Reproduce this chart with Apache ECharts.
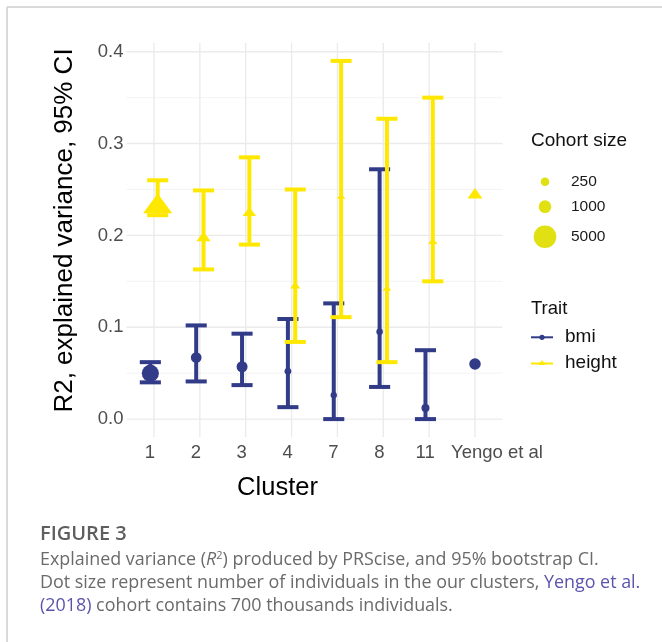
<!DOCTYPE html>
<html>
<head>
<meta charset="utf-8">
<script src="https://cdn.jsdelivr.net/npm/echarts@6/dist/echarts.min.js"></script>
<style>
html,body{margin:0;padding:0;background:#fff;}
#chart{width:662px;height:642px;}
</style>
</head>
<body>
<div id="chart"></div>
<script>
// ---------- data ----------
const categories = ['1', '2', '3', '4', '7', '8', '11', 'Yengo et al'];
const yTicks = [0, 0.1, 0.2, 0.3, 0.4];

const bmiR2     = [0.050, 0.067, 0.057, 0.052, 0.026, 0.095, 0.012];
const bmiLow    = [0.040, 0.041, 0.037, 0.013, 0.000, 0.035, 0.000];
const bmiHigh   = [0.062, 0.102, 0.093, 0.109, 0.126, 0.272, 0.075];
const bmiCohort = [2400, 570, 630, 70, 45, 55, 180];

const heightR2     = [0.235, 0.199, 0.226, 0.146, 0.243, 0.143, 0.194];
const heightLow    = [0.222, 0.163, 0.190, 0.084, 0.111, 0.062, 0.150];
const heightHigh   = [0.260, 0.249, 0.285, 0.250, 0.390, 0.327, 0.350];
const heightCohort = [4400, 550, 450, 130, 45, 45, 80];

const yengoBmi = 0.060;
const yengoHeight = 0.246;

const legendCohorts = [250, 1000, 5000];
const traits = ['bmi', 'height'];

// ---------- styles ----------
const NAVY = '#313b88';
const YELLOW = '#ffe800';
const LEGEND_YELLOW = '#e0e012';
const DODGE = 0.08;
const CAP_UNITS = 0.46;
const ERR_W = 4;
const FONT = '"Liberation Sans", Arial, sans-serif';
const CAP_FONT = '"Open Sans", "Noto Sans", sans-serif';
const CAP_SIZE = 17.9;

function dotSize(n) { return 4.6 + 0.255 * Math.sqrt(n); }
function triSize(n) { const w = 1.35 * dotSize(n); return [w, 0.68 * w]; }

const clusterIdx = categories.slice(0, 7).map((c, i) => i + 1);
const yengoIdx = categories.length;

const bmiErr = clusterIdx.map((x, i) => [x - DODGE, bmiLow[i], bmiHigh[i]]);
const heightErr = clusterIdx.map((x, i) => [x + DODGE, heightLow[i], heightHigh[i]]);
const bmiPts = clusterIdx.map((x, i) => [x - DODGE, bmiR2[i], bmiCohort[i]]);
const heightPts = clusterIdx.map((x, i) => [x + DODGE, heightR2[i], heightCohort[i]]);

const majorY = yTicks.map(v => [1, v]);
const minorY = yTicks.slice(0, -1).map((v, i) => [1, (yTicks[i] + yTicks[i + 1]) / 2]);
const vertX = categories.map((c, i) => [i + 1, 0]);

function hGrid(width, color) {
  return function (params, api) {
    const cs = params.coordSys;
    const y = api.coord([1, api.value(1)])[1];
    return { type: 'line', shape: { x1: cs.x, y1: y, x2: cs.x + cs.width, y2: y },
      style: { stroke: color, lineWidth: width } };
  };
}
function vGrid(params, api) {
  const cs = params.coordSys;
  const x = api.coord([api.value(0), 0])[0];
  return { type: 'line', shape: { x1: x, y1: cs.y, x2: x, y2: cs.y + cs.height },
    style: { stroke: '#ebebeb', lineWidth: 1.4 } };
}
function errBar(color) {
  return function (params, api) {
    const x = api.value(0);
    const pLo = api.coord([x, api.value(1)]);
    const pHi = api.coord([x, api.value(2)]);
    const hw = api.size([CAP_UNITS, 0])[0] / 2;
    const st = { stroke: color, lineWidth: ERR_W, lineCap: 'butt' };
    return { type: 'group', children: [
      { type: 'line', shape: { x1: pLo[0], y1: pLo[1], x2: pHi[0], y2: pHi[1] }, style: st },
      { type: 'line', shape: { x1: pHi[0] - hw, y1: pHi[1], x2: pHi[0] + hw, y2: pHi[1] }, style: st },
      { type: 'line', shape: { x1: pLo[0] - hw, y1: pLo[1], x2: pLo[0] + hw, y2: pLo[1] }, style: st }
    ] };
  };
}

const chart = echarts.init(document.getElementById('chart'), null, { renderer: 'canvas' });

// legend & caption graphics
const graphics = [
  { type: 'line', shape: { x1: 7, y1: 7, x2: 662, y2: 7 }, style: { stroke: '#dadada', lineWidth: 2 } },
  { type: 'line', shape: { x1: 7, y1: 7, x2: 7, y2: 642 }, style: { stroke: '#dadada', lineWidth: 2 } },
  { type: 'text', x: 531, y: 141, style: { text: 'Cohort size', font: '19px ' + FONT, fill: '#111', verticalAlign: 'middle' } }
];
const legendY = [181.7, 206.7, 236.7];
legendCohorts.forEach((n, i) => {
  graphics.push({ type: 'circle', shape: { cx: 545, cy: legendY[i], r: dotSize(n) / 2 }, style: { fill: LEGEND_YELLOW } });
  graphics.push({ type: 'text', x: 571, y: legendY[i], style: { text: String(n), font: '15.5px ' + FONT, fill: '#1a1a1a', verticalAlign: 'middle' } });
});
graphics.push({ type: 'text', x: 531, y: 308.5, style: { text: 'Trait', font: '18.5px ' + FONT, fill: '#111', verticalAlign: 'middle' } });
const traitY = [337.3, 363.5];
const traitCol = [NAVY, YELLOW];
traits.forEach((t, i) => {
  graphics.push({ type: 'line', shape: { x1: 531, y1: traitY[i], x2: 553, y2: traitY[i] }, style: { stroke: traitCol[i], lineWidth: 2 } });
  if (i === 0) {
    graphics.push({ type: 'circle', shape: { cx: 542, cy: traitY[i], r: 2.6 }, style: { fill: traitCol[i] } });
  } else {
    graphics.push({ type: 'polygon', shape: { points: [[542, traitY[i] - 3.5], [545.5, traitY[i] + 1.5], [538.5, traitY[i] + 1.5]] }, style: { fill: traitCol[i] } });
  }
  graphics.push({ type: 'text', x: 565, y: traitY[i] - 0.5, style: { text: t, font: '19px ' + FONT, fill: '#111', verticalAlign: 'middle' } });
});
// caption
graphics.push({ type: 'text', x: 40, y: 534.5, style: { text: 'FIGURE 3', font: '600 20px ' + CAP_FONT, fill: '#5e5e5e', verticalAlign: 'middle' } });
graphics.push({ type: 'text', x: 40, y: 559.5, style: {
  text: 'Explained variance ({it|R}{sup|2}) produced by PRScise, and 95% bootstrap CI.',
  font: CAP_SIZE + 'px ' + CAP_FONT, fill: '#6a6a6a', verticalAlign: 'middle',
  rich: { it: { fontStyle: 'italic', fontSize: CAP_SIZE, fontFamily: CAP_FONT, fill: '#6a6a6a' },
          sup: { fontSize: 11, fontFamily: CAP_FONT, verticalAlign: 'top', padding: [0, 0, 8, 0], fill: '#6a6a6a' } } } });
graphics.push({ type: 'text', x: 40, y: 582.7, style: {
  text: 'Dot size represent number of individuals in the our clusters, {lk|Yengo et al.}',
  font: CAP_SIZE + 'px ' + CAP_FONT, fill: '#6a6a6a', verticalAlign: 'middle',
  rich: { lk: { fill: '#5b54ad', fontSize: CAP_SIZE, fontFamily: CAP_FONT } } } });
graphics.push({ type: 'text', x: 40, y: 606, style: {
  text: '{lk|(2018)} cohort contains 700 thousands individuals.',
  font: CAP_SIZE + 'px ' + CAP_FONT, fill: '#6a6a6a', verticalAlign: 'middle',
  rich: { lk: { fill: '#5b54ad', fontSize: CAP_SIZE, fontFamily: CAP_FONT } } } });

const option = {
  animation: false,
  backgroundColor: '#fff',
  grid: { left: 126.5, right: 159.5, top: 43, bottom: 205, containLabel: false },
  xAxis: {
    type: 'value', min: 0.4, max: 8.6,
    axisLine: { show: false }, axisTick: { show: false }, splitLine: { show: false },
    axisLabel: {
      customValues: categories.map((c, i) => i + 1),
      showMinLabel: true, showMaxLabel: true, hideOverlap: false,
      formatter: v => {
        const i = Math.round(v) - 1;
        return (i === categories.length - 1 ? '{y|' : '{n|') + categories[i] + '}';
      },
      rich: {
        n: { fontSize: 18.5, color: '#4d4d4d', fontFamily: FONT, padding: [0, 8, 0, 0] },
        y: { fontSize: 18.5, color: '#4d4d4d', fontFamily: FONT, padding: [0, 0, 0, 44] }
      },
      fontSize: 18.5, color: '#4d4d4d', fontFamily: FONT, margin: 6
    },
    name: 'Cluster', nameLocation: 'middle', nameGap: 38,
    nameTextStyle: { fontSize: 25.5, color: '#000', fontFamily: FONT, padding: [0, 74, 0, 0] }
  },
  yAxis: {
    type: 'value', min: -0.0195, max: 0.4095,
    axisLine: { show: false }, axisTick: { show: false }, splitLine: { show: false },
    axisLabel: {
      customValues: yTicks,
      showMinLabel: true, showMaxLabel: true,
      formatter: v => v.toFixed(1),
      fontSize: 18.5, color: '#4d4d4d', fontFamily: FONT, margin: 3
    },
    name: 'R2, explained variance, 95% CI', nameLocation: 'middle', nameGap: 49, nameRotate: 90,
    nameTextStyle: { fontSize: 26, color: '#000', fontFamily: FONT, padding: [0, 0, 0, 19] }
  },
  graphic: graphics,
  series: [
    { type: 'custom', silent: true, renderItem: hGrid(0.8, '#f0f0f0'), data: minorY, encode: { x: 0, y: 1 }, z: 1 },
    { type: 'custom', silent: true, renderItem: hGrid(1.4, '#ebebeb'), data: majorY, encode: { x: 0, y: 1 }, z: 1 },
    { type: 'custom', silent: true, renderItem: vGrid, data: vertX, encode: { x: 0, y: 1 }, z: 1 },
    { name: 'bmi', type: 'custom', renderItem: errBar(NAVY), data: bmiErr, encode: { x: 0, y: [1, 2] }, z: 2 },
    { name: 'height', type: 'custom', renderItem: errBar(YELLOW), data: heightErr, encode: { x: 0, y: [1, 2] }, z: 3 },
    { name: 'bmi', type: 'scatter', data: bmiPts, symbol: 'circle', symbolSize: v => dotSize(v[2]),
      itemStyle: { color: NAVY, opacity: 1 }, z: 4 },
    { name: 'height', type: 'scatter', data: heightPts, symbol: 'triangle', symbolSize: v => triSize(v[2]),
      itemStyle: { color: YELLOW, opacity: 1 }, z: 5 },
    { name: 'bmi', type: 'scatter', data: [[yengoIdx, yengoBmi]], symbol: 'circle', symbolSize: 11.5,
      itemStyle: { color: NAVY, opacity: 1 }, z: 6 },
    { name: 'height', type: 'scatter', data: [[yengoIdx, yengoHeight]], symbol: 'triangle', symbolSize: [15, 10.5],
      itemStyle: { color: YELLOW, opacity: 1 }, z: 6 }
  ]
};
chart.setOption(option);
</script>
</body>
</html>
